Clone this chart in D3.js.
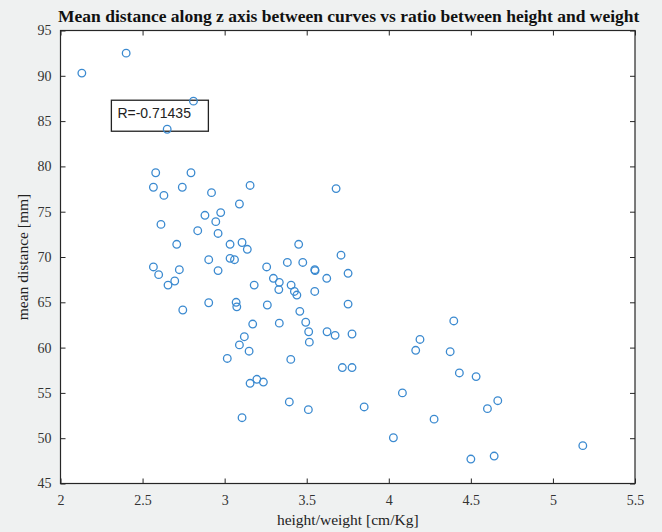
<!DOCTYPE html>
<html><head><meta charset="utf-8">
<script src="https://cdn.jsdelivr.net/npm/d3@7"></script>
<style>html,body{margin:0;padding:0;background:#eff1f1;}svg{display:block;}</style>
</head><body>
<script>
const ratio = [2.13,2.40,2.81,2.65,2.58,2.795,2.566,2.63,2.742,2.92,3.155,3.09,2.88,2.976,2.946,2.612,2.836,2.96,2.708,3.033,3.106,3.138,3.451,2.903,3.033,3.06,2.566,2.598,2.724,2.96,2.696,2.655,3.256,3.382,3.297,3.333,3.33,3.18,3.405,3.425,3.44,2.903,3.07,3.074,3.26,2.745,3.171,3.333,3.12,3.09,3.149,3.016,3.403,3.155,3.196,3.236,3.394,3.106,3.458,3.679,3.476,3.709,3.549,3.551,3.622,3.752,3.549,3.752,3.494,3.512,3.516,3.624,3.673,3.776,3.717,3.776,3.51,3.85,4.083,4.028,4.276,4.19,4.164,4.396,4.374,4.43,4.532,4.50,4.664,4.601,4.642,5.182];
const meanDist = [90.3,92.5,87.2,84.1,79.3,79.3,77.7,76.8,77.7,77.1,77.9,75.85,74.6,74.9,73.9,73.6,72.9,72.6,71.4,71.4,71.6,70.85,71.4,69.7,69.85,69.7,68.9,68.05,68.6,68.5,67.35,66.9,68.9,69.4,67.65,67.2,66.4,66.9,66.9,66.2,65.8,64.95,65.0,64.5,64.7,64.15,62.6,62.7,61.2,60.3,59.6,58.8,58.7,56.06,56.5,56.2,54.0,52.26,64.0,77.55,69.4,70.2,68.6,68.5,67.65,68.2,66.2,64.8,62.8,61.75,60.6,61.75,61.35,61.5,57.8,57.8,53.15,53.45,55.0,50.05,52.1,60.9,59.7,62.94,59.55,57.2,56.8,47.7,54.14,53.26,48.03,49.18];
const xTicks = [2,2.5,3,3.5,4,4.5,5,5.5];
const yTicks = [45,50,55,60,65,70,75,80,85,90,95];
const titleText = "Mean distance along z axis between curves vs ratio between height and weight";
const xLabel = "height/weight [cm/Kg]";
const yLabel = "mean distance [mm]";
const annotation = "R=-0.71435";
const annotPos = [2.31, 86.2];

const W = 662, H = 532;
const m = {left:60.5, right:635, top:30.5, bottom:483.5};
const svg = d3.select("body").append("svg").attr("width",W).attr("height",H);
svg.append("rect").attr("width",W).attr("height",H).attr("fill","#eff1f1");
const x = d3.scaleLinear().domain([2,5.5]).range([m.left,m.right]);
const y = d3.scaleLinear().domain([45,95]).range([m.bottom,m.top]);
svg.append("rect").attr("x",m.left).attr("y",m.top).attr("width",m.right-m.left).attr("height",m.bottom-m.top).attr("fill","#fff");

const axisColor = "#262626";
const tickFont = "'Liberation Serif','Times New Roman',serif";
function styleAxis(g){ g.select(".domain").remove(); g.selectAll("line").attr("stroke",axisColor).attr("stroke-width",1); g.selectAll("text").attr("fill","#333").style("font-family",tickFont).style("font-size","14px"); }
svg.append("g").attr("transform",`translate(0,${m.bottom})`).call(d3.axisBottom(x).tickValues(xTicks).tickSize(-5).tickPadding(12).tickFormat(d3.format("~g"))).call(styleAxis);
svg.append("g").attr("transform",`translate(0,${m.top})`).call(d3.axisTop(x).tickValues(xTicks).tickSize(-5).tickFormat("")).call(styleAxis);
svg.append("g").attr("transform",`translate(${m.left},0)`).call(d3.axisLeft(y).tickValues(yTicks).tickSize(-5).tickPadding(9).tickFormat(d3.format("~g"))).call(styleAxis);
svg.append("g").attr("transform",`translate(${m.right},0)`).call(d3.axisRight(y).tickValues(yTicks).tickSize(-5).tickFormat("")).call(styleAxis);
svg.append("rect").attr("x",m.left).attr("y",m.top).attr("width",m.right-m.left).attr("height",m.bottom-m.top).attr("fill","none").attr("stroke",axisColor).attr("stroke-width",1.2);

// annotation box (drawn beneath markers)
const bx = x(annotPos[0]), by = y(annotPos[1]);
const ag = svg.append("g");
ag.append("rect").attr("x",bx).attr("y",by-10).attr("width",97).attr("height",31)
  .attr("fill","#fff").attr("stroke","#222").attr("stroke-width",1.3);
ag.append("text").attr("x",bx+6).attr("y",by+8).text(annotation)
  .style("font-family","'Liberation Sans',Arial,sans-serif").style("font-size","14px").attr("fill","#222");

svg.append("g").selectAll("circle").data(ratio.map((r,i)=>[r,meanDist[i]])).join("circle")
  .attr("cx",d=>x(d[0])).attr("cy",d=>y(d[1])).attr("r",3.8)
  .attr("fill","none").attr("stroke","#3b8ad0").attr("stroke-width",1.3);

svg.append("text").attr("x",(m.left+m.right)/2+1).attr("y",22).attr("text-anchor","middle")
  .style("font-family",tickFont).style("font-weight","bold").style("font-size","17.5px").attr("fill","#111").text(titleText);
svg.append("text").attr("x",(m.left+m.right)/2).attr("y",525).attr("text-anchor","middle")
  .style("font-family",tickFont).style("font-size","15.5px").attr("fill","#222").text(xLabel);
svg.append("text").attr("transform",`translate(28,${(m.top+m.bottom)/2}) rotate(-90)`).attr("text-anchor","middle")
  .style("font-family",tickFont).style("font-size","15.5px").attr("fill","#222").text(yLabel);
</script>
</body></html>
